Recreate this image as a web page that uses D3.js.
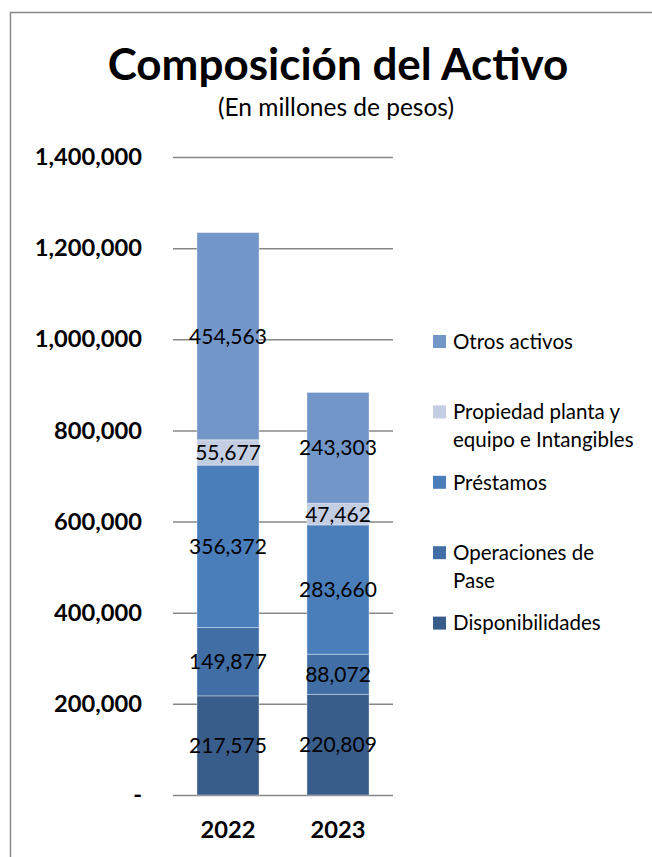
<!DOCTYPE html>
<html>
<head>
<meta charset="utf-8">
<script src="https://cdn.jsdelivr.net/npm/d3@7"></script>
<style>
  body { margin: 0; background: #fff; }
  text { font-family: Lato, "Open Sans", sans-serif; fill: #000; }
</style>
</head>
<body>
<div id="chart"></div>
<script>
// data (millones de pesos)
var years = ["2022", "2023"];
var seriesNames = ["Disponibilidades", "Operaciones de Pase", "Préstamos",
    "Propiedad planta y equipo e Intangibles", "Otros activos"];
var disponibilidades = [217575, 220809];
var operacionesPase = [149877, 88072];
var prestamos = [356372, 283660];
var propiedadPlanta = [55677, 47462];
var otrosActivos = [454563, 243303];
var yTicks = [0, 200000, 400000, 600000, 800000, 1000000, 1200000, 1400000];
// legend text, split in lines like the original (top to bottom)
var legendLines = [["Otros activos"], ["Propiedad planta y", "equipo e Intangibles"],
    ["Préstamos"], ["Operaciones de", "Pase"], ["Disponibilidades"]];

var colors = ["#395d8b", "#416ea4", "#4a7ebb", "#c4cee3", "#7396c8"];

var width = 652, height = 857;
var plot = {left: 173, right: 393, top: 157, bottom: 795};

var svg = d3.select("#chart").append("svg")
    .attr("width", width)
    .attr("height", height);

// outer frame (left + top only visible)
svg.append("path")
    .attr("d", "M10.5," + height + "V12.5H" + width)
    .attr("fill", "none")
    .attr("stroke", "#8a8a8a")
    .attr("stroke-width", 1.5);

// titles
svg.append("text")
    .attr("x", 338).attr("y", 80)
    .attr("text-anchor", "middle")
    .style("font-size", "44px").style("font-weight", "bold")
    .text("Composición del Activo");
svg.append("text")
    .attr("x", 336).attr("y", 116)
    .attr("text-anchor", "middle")
    .style("font-size", "24.5px")
    .text("(En millones de pesos)");

// table built from the arrays
var table = years.map(function (y, i) {
    return {year: y, s0: disponibilidades[i], s1: operacionesPase[i], s2: prestamos[i],
        s3: propiedadPlanta[i], s4: otrosActivos[i]};
});
var keys = ["s0", "s1", "s2", "s3", "s4"];
var stacked = d3.stack().keys(keys)(table);

var x = d3.scaleBand()
    .domain(years)
    .range([plot.left, plot.right])
    .paddingInner(0.436)
    .paddingOuter(0.218);

var y = d3.scaleLinear()
    .domain([0, 1400000])
    .range([plot.bottom, plot.top]);

// y axis + gridlines
var yAxis = svg.append("g")
    .attr("transform", "translate(" + plot.left + ",0)")
    .call(d3.axisLeft(y)
        .tickValues(yTicks)
        .tickSizeInner(-(plot.right - plot.left))
        .tickSizeOuter(0)
        .tickPadding(31)
        .tickFormat(function (d) { return d === 0 ? "-" : d3.format(",")(d); }));
yAxis.select(".domain").remove();
yAxis.selectAll(".tick line").attr("stroke", "#878787").attr("stroke-width", 1.5);
yAxis.selectAll(".tick text")
    .attr("fill", "#000")
    .style("font-family", "Lato, sans-serif")
    .style("font-size", "23.7px")
    .style("font-weight", "bold");

// bars
var layers = svg.append("g").selectAll("g")
    .data(stacked)
    .enter().append("g")
    .attr("fill", function (d, i) { return colors[i]; });

layers.selectAll("rect")
    .data(function (d) { return d; })
    .enter().append("rect")
    .attr("x", function (d) { return x(d.data.year); })
    .attr("y", function (d) { return y(d[1]); })
    .attr("width", x.bandwidth())
    .attr("height", function (d) { return y(d[0]) - y(d[1]); })
    .attr("stroke", "rgba(255,255,255,0.35)")
    .attr("stroke-width", 1);

// value labels
var labels = svg.append("g");
stacked.forEach(function (layer) {
    labels.selectAll(null)
        .data(layer)
        .enter().append("text")
        .attr("x", function (d) { return x(d.data.year) + x.bandwidth() / 2; })
        .attr("y", function (d) { return y((d[0] + d[1]) / 2); })
        .attr("dy", "0.36em")
        .attr("text-anchor", "middle")
        .style("font-size", "21px")
        .text(function (d) { return d3.format(",")(d[1] - d[0]); });
});

// x labels
svg.append("g").selectAll("text")
    .data(years)
    .enter().append("text")
    .attr("x", function (d) { return x(d) + x.bandwidth() / 2; })
    .attr("y", 838)
    .attr("text-anchor", "middle")
    .style("font-size", "23.7px")
    .style("font-weight", "bold")
    .text(function (d) { return d; });

// legend
var legendColors = colors.slice().reverse();
var legend = svg.append("g")
    .selectAll("g")
    .data(legendLines)
    .enter().append("g")
    .attr("transform", function (d, i) { return "translate(433," + (341.5 + i * 70.4) + ")"; });

legend.append("rect")
    .attr("y", -6.5)
    .attr("width", 13)
    .attr("height", 13)
    .attr("fill", function (d, i) { return legendColors[i]; });

legend.append("text")
    .attr("x", 20)
    .style("font-size", "20.5px")
    .selectAll("tspan")
    .data(function (d) { return d; })
    .enter().append("tspan")
    .attr("x", 20)
    .attr("y", function (d, i) { return i * 27.5; })
    .attr("dy", "0.36em")
    .text(function (d) { return d; });
</script>
</body>
</html>
